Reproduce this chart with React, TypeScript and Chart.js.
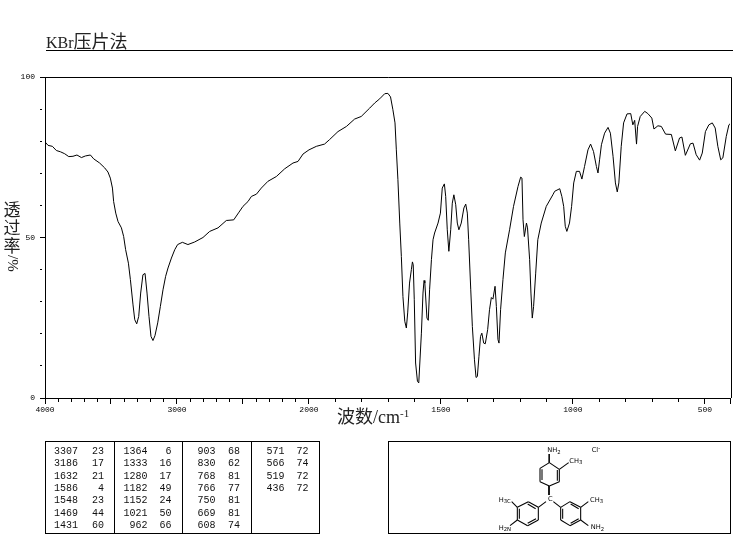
import React, { useEffect, useRef } from "react";
import { Chart, LinearScale, registerables } from "chart.js";

const wavenumbers = [
  4000, 3977, 3944, 3914, 3883, 3851, 3820, 3788, 3758, 3724, 3694, 3656, 3631, 3586, 3548, 3523, 3505, 3489, 3480, 3464,
  3447, 3421, 3404, 3389, 3368, 3353, 3333, 3320, 3305, 3290, 3275, 3258, 3242, 3227, 3212, 3197, 3182, 3167, 3146, 3126,
  3106, 3086, 3068, 3042, 3017, 2995, 2959, 2917, 2866, 2803, 2752, 2689, 2626, 2570, 2530, 2500, 2462, 2436, 2398, 2361,
  2311, 2247, 2184, 2121, 2083, 2045, 2000, 1972, 1941, 1922, 1890, 1858, 1827, 1802, 1770, 1751, 1732, 1713, 1701, 1691,
  1682, 1674, 1669, 1663, 1656, 1650, 1644, 1637, 1631, 1626, 1619, 1612, 1608, 1605, 1601, 1596, 1589, 1584, 1580, 1574,
  1568, 1564, 1561, 1553, 1548, 1543, 1536, 1530, 1524, 1511, 1502, 1495, 1487, 1482, 1476, 1470, 1463, 1457, 1451, 1444,
  1438, 1432, 1423, 1413, 1406, 1400, 1395, 1387, 1381, 1373, 1367, 1362, 1356, 1350, 1345, 1338, 1332, 1323, 1316, 1309,
  1303, 1295, 1290, 1284, 1280, 1274, 1265, 1256, 1240, 1225, 1208, 1198, 1193, 1189, 1184, 1176, 1172, 1164, 1159, 1154,
  1149, 1141, 1133, 1120, 1101, 1076, 1069, 1050, 1042, 1035, 1029, 1023, 1013, 1005, 997, 987, 975, 966, 956, 943,
  933, 922, 911, 905, 899, 892, 880, 867, 858, 848, 839, 832, 826, 817, 808, 795, 781, 773, 766, 759,
  755, 745, 728, 716, 701, 693, 678, 665, 649, 627, 612, 596, 587, 574, 555, 545, 533, 520, 510, 498,
  485, 472, 461, 451, 440, 432, 419, 409, 405,
];
const transmittance = [
  79.8, 78.7, 78.4, 77.1, 76.7, 76.1, 75.2, 75.3, 75.7, 74.9, 75.4, 75.7, 74.5, 73.2, 71.7, 70.4, 68.5, 65.4, 61.2, 57.6,
  55, 53, 50.3, 46.2, 42, 36.9, 29, 24.4, 23.1, 25.4, 32.7, 38.4, 38.8, 32.7, 25.4, 19.2, 17.9, 19.4, 23.4, 28.5,
  33.7, 37.9, 40.5, 43.6, 46.2, 47.8, 48.5, 47.8, 48.6, 50, 51.9, 53, 55.3, 55.5, 57.9, 59.7, 61.2, 62.8, 63.5, 65.4,
  67.5, 69, 71.4, 73.2, 73.7, 76, 77.3, 78.4, 79.1, 80.5, 83, 84.6, 86.9, 87.7, 90.3, 91.9, 93.2, 94.8, 94.9, 93.8,
  89.8, 85.7, 77.3, 68, 54.5, 44.1, 31.6, 23.9, 21.8, 26.5, 35.8, 40, 42.4, 41.5, 30.6, 10.9, 5.2, 4.7, 10.9, 20.2,
  32.7, 36.6, 35.8, 24.9, 24.2, 33.7, 43.1, 49.3, 51.4, 54.5, 57.6, 65.4, 66.7, 62.8, 52.4, 45.7, 52.4, 60.7, 63.3, 60.2,
  54.5, 52.4, 54.5, 59.2, 60.4, 57.6, 49.3, 33.7, 22.3, 11.9, 6.4, 6.7, 13, 19.2, 20.2, 17.1, 16.9, 21.3, 27.5, 31.3,
  30.8, 34.8, 28.5, 18.2, 17.1, 27.5, 36.9, 45.2, 52.4, 59.7, 65.9, 68.8, 68.5, 55.5, 50.3, 54.5, 53, 43.1, 32.7, 24.9,
  28.5, 38.9, 49.3, 54.5, 59.7, 63.3, 64.4, 65.2, 62.8, 59.7, 53.5, 51.9, 54.5, 59.7, 67, 70.6, 70.6, 68.2, 72.1, 77.3,
  79.1, 76.8, 72.1, 70.1, 74.2, 78.9, 82.5, 84.3, 82.5, 75.3, 67, 64.2, 67, 78.4, 85.7, 88.5, 88.6, 85.1, 86.5, 79.1,
  84.6, 87.7, 89.3, 88.6, 87.2, 83.8, 84.8, 84.6, 82.2, 82.1, 77, 81, 81.3, 75.6, 79.2, 79.4, 75.8, 74.1, 76.3, 83,
  85.1, 85.7, 84.1, 78.4, 74.2, 74.8, 81.5, 85.1, 85.4,
];

const xAxisStart = 4000;
const xAxisEnd = 403;
const xBreak = 2000;
const xTickValues = [
  4000, 3900, 3800, 3700, 3600, 3500, 3400, 3300, 3200, 3100, 3000, 2900, 2800, 2700, 2600, 2500, 2400, 2300, 2200, 2100,
  2000, 1900, 1800, 1700, 1600, 1500, 1400, 1300, 1200, 1100, 1000, 900, 800, 700, 600, 500, 403,
];
const xTickLabels = [4000, 3000, 2000, 1500, 1000, 500];
const yTickLabels = [0, 50, 100];
const yTitleChars = ["透", "过", "率"];

const peakRows = [
  [["3307", "23"], ["3186", "17"], ["1632", "21"], ["1586", "4"], ["1548", "23"], ["1469", "44"], ["1431", "60"]],
  [["1364", "6"], ["1333", "16"], ["1280", "17"], ["1182", "49"], ["1152", "24"], ["1021", "50"], ["962", "66"]],
  [["903", "68"], ["830", "62"], ["768", "81"], ["766", "77"], ["750", "81"], ["669", "81"], ["608", "74"]],
  [["571", "72"], ["566", "74"], ["519", "72"], ["436", "72"]],
];
const tableWaveRight = [78, 147.5, 215.5, 284.5];
const tableValueRight = [104, 171.5, 240, 308.5];
const tableRowY = [453.5, 466, 478.5, 490.5, 503, 515.5, 527.5];

// The wavenumber axis of this instrument doubles its scale below 2000 cm-1.
const fold = (v: number) => (v >= xBreak ? v : xBreak - (xBreak - v) * 2);

class BrokenWavenumberScale extends LinearScale {
  static id = "brokenWavenumber";
  static defaults = LinearScale.defaults;
  getPixelForValue(value: number) {
    const a = fold(xAxisStart);
    const b = fold(xAxisEnd);
    return this.left + ((a - fold(value)) / (a - b)) * this.width;
  }
}

Chart.register(...registerables, BrokenWavenumberScale);

const framePlugin = {
  id: "frame",
  afterDraw(chart: any) {
    const { ctx, chartArea: a } = chart;
    ctx.save();
    ctx.strokeStyle = "#000";
    ctx.lineWidth = 1;
    ctx.beginPath();
    ctx.moveTo(a.left, Math.round(a.top) + 0.5);
    ctx.lineTo(Math.round(a.right) + 0.5, Math.round(a.top) + 0.5);
    ctx.lineTo(Math.round(a.right) + 0.5, a.bottom);
    ctx.stroke();
    ctx.restore();
  },
};

const tickFont = { family: "'Liberation Mono', monospace", size: 8 };

const bonds = [
  [538, 72, 538, 98], [537, 72, 537, 98], [538, 98, 568, 118], [568, 118, 568, 155], [562, 120, 562, 152], [568, 155, 538, 168], [538, 168, 510, 155],
  [510, 155, 510, 115], [516, 150, 516, 118], [510, 115, 538, 98], [568, 118, 596, 98], [538, 168, 538, 195], [536, 168, 536, 195],
  [528, 215, 505, 232], [550, 215, 572, 232],
  [505, 232, 475, 215], [475, 215, 442, 232], [442, 232, 442, 270], [448, 236, 448, 266], [442, 270, 473, 287], [473, 287, 505, 270], [505, 270, 505, 232],
  [473, 222, 497, 236], [473, 280, 498, 266], [442, 232, 425, 215], [442, 270, 420, 287],
  [572, 232, 600, 215], [600, 215, 632, 232], [632, 232, 632, 270], [632, 270, 600, 287], [600, 287, 572, 270], [572, 270, 572, 232],
  [578, 236, 578, 266], [602, 222, 626, 236], [602, 280, 626, 266], [632, 232, 655, 215], [632, 270, 655, 287],
];
const atoms: [number, number, string, string?][] = [
  [532, 67, "NH", "2"], [598, 98, "CH", "3"], [386, 215, "H", "3C"], [534, 214, "C"], [660, 216, "CH", "3"],
  [386, 300, "H", "2N"], [662, 298, "NH", "2"], [665, 67, "Cl", "-"],
];

export default function App() {
  const ref = useRef<HTMLCanvasElement>(null);
  useEffect(() => {
    const chart = new Chart(ref.current!, {
      type: "line",
      data: {
        datasets: [
          {
            label: "透过率",
            data: wavenumbers.map((x, i) => ({ x, y: transmittance[i] })),
            borderColor: "#000",
            borderWidth: 1,
            pointRadius: 0,
            tension: 0,
            fill: false,
          },
        ],
      },
      options: {
        animation: false,
        responsive: false,
        devicePixelRatio: 1,
        layout: { padding: { left: 0, top: 77, right: 6.5, bottom: 121 } },
        plugins: { legend: { display: false }, title: { display: false }, tooltip: { enabled: false } },
        scales: {
          x: {
            type: "brokenWavenumber" as any,
            min: xAxisEnd,
            max: xAxisStart,
            afterFit(s: any) { s.height = 20; },
            afterBuildTicks(s: any) { s.ticks = xTickValues.map((value) => ({ value })); },
            border: { color: "#000", width: 1 },
            grid: {
              drawOnChartArea: false,
              tickLength: 6,
              tickColor: "#000",
              tickBorderDash: (c: any) => (c.tick && (c.tick.value % 500 === 0 || c.tick.value === xAxisEnd) ? [] : [3, 50]),
            },
            ticks: {
              autoSkip: false,
              maxRotation: 0,
              minRotation: 0,
              padding: 1,
              color: "#000",
              font: tickFont,
              callback: (v: any) => (xTickLabels.includes(v) ? String(v) : ""),
            },
          } as any,
          y: {
            min: 0,
            max: 100,
            afterFit(s: any) { s.width = 45; },
            border: { color: "#000", width: 1 },
            grid: {
              drawOnChartArea: false,
              tickLength: 5,
              tickColor: "#000",
              tickBorderDash: (c: any) => (c.tick && yTickLabels.includes(c.tick.value) ? [] : [2, 50]),
            },
            ticks: {
              stepSize: 10,
              autoSkip: false,
              padding: 5,
              color: "#000",
              font: tickFont,
              callback: (v: any) => (yTickLabels.includes(v) ? String(v) : ""),
            },
          },
        },
      },
      plugins: [framePlugin],
    });
    return () => chart.destroy();
  }, []);

  const mono = "'Liberation Mono', monospace";
  const serif = "'Liberation Serif', serif";
  const cjk = "'Noto Sans CJK SC', sans-serif";
  return (
    <div style={{ position: "absolute", left: 0, top: 0, width: 737, height: 539, overflow: "hidden", background: "#fff" }}>
      <canvas ref={ref} width={737} height={539} style={{ position: "absolute", left: 0, top: 0 }} />
      <svg width={737} height={539} style={{ position: "absolute", left: 0, top: 0 }}>
        <text x={46} y={48} fill="#222" style={{ fontFamily: serif, fontSize: 16 }}>
          KBr<tspan style={{ fontFamily: cjk, fontSize: 18 }}>压片法</tspan>
        </text>
        <line x1={46} y1={50.5} x2={733} y2={50.5} stroke="#000" />

        {yTitleChars.map((ch, i) => (
          <text key={ch} x={12} y={216 + i * 18} textAnchor="middle" fill="#222" style={{ fontFamily: cjk, fontSize: 17 }}>
            {ch}
          </text>
        ))}
        <text transform="translate(8,255) rotate(90)" fill="#222" style={{ fontFamily: serif, fontSize: 15 }}>
          /%
        </text>

        <text x={337} y={423} fill="#222" style={{ fontFamily: cjk, fontSize: 18 }}>
          波数<tspan style={{ fontFamily: serif }}>/cm</tspan>
          <tspan dy={-6} style={{ fontFamily: serif, fontSize: 11 }}>-1</tspan>
        </text>

        <rect x={45.5} y={441.5} width={274} height={92} fill="none" stroke="#000" />
        {[114.5, 182.5, 251.5].map((x) => (
          <line key={x} x1={x} y1={441.5} x2={x} y2={533.5} stroke="#000" />
        ))}
        {peakRows.map((col, c) =>
          col.map(([w, t], r) => (
            <g key={`${c}-${r}`} style={{ fontFamily: mono, fontSize: 10 }} fill="#111">
              <text x={tableWaveRight[c]} y={tableRowY[r]} textAnchor="end">{w}</text>
              <text x={tableValueRight[c]} y={tableRowY[r]} textAnchor="end">{t}</text>
            </g>
          ))
        )}

        <rect x={388.5} y={441.5} width={342} height={92} fill="none" stroke="#000" />
        <g transform="translate(370,430) scale(0.33333)">
          {bonds.map(([a, b, c, d], i) => (
            <line key={i} x1={a} y1={b} x2={c} y2={d} stroke="#000" strokeWidth={3.2} />
          ))}
          {atoms.map(([x, y, main, sub], i) => (
            <text key={i} x={x} y={y} fill="#000" style={{ fontFamily: "'DejaVu Sans', sans-serif", fontSize: 20 }}>
              {main}
              {sub ? <tspan dy={sub === "-" ? -6 : 4} style={{ fontSize: 16 }}>{sub}</tspan> : null}
            </text>
          ))}
        </g>
      </svg>
    </div>
  );
}
